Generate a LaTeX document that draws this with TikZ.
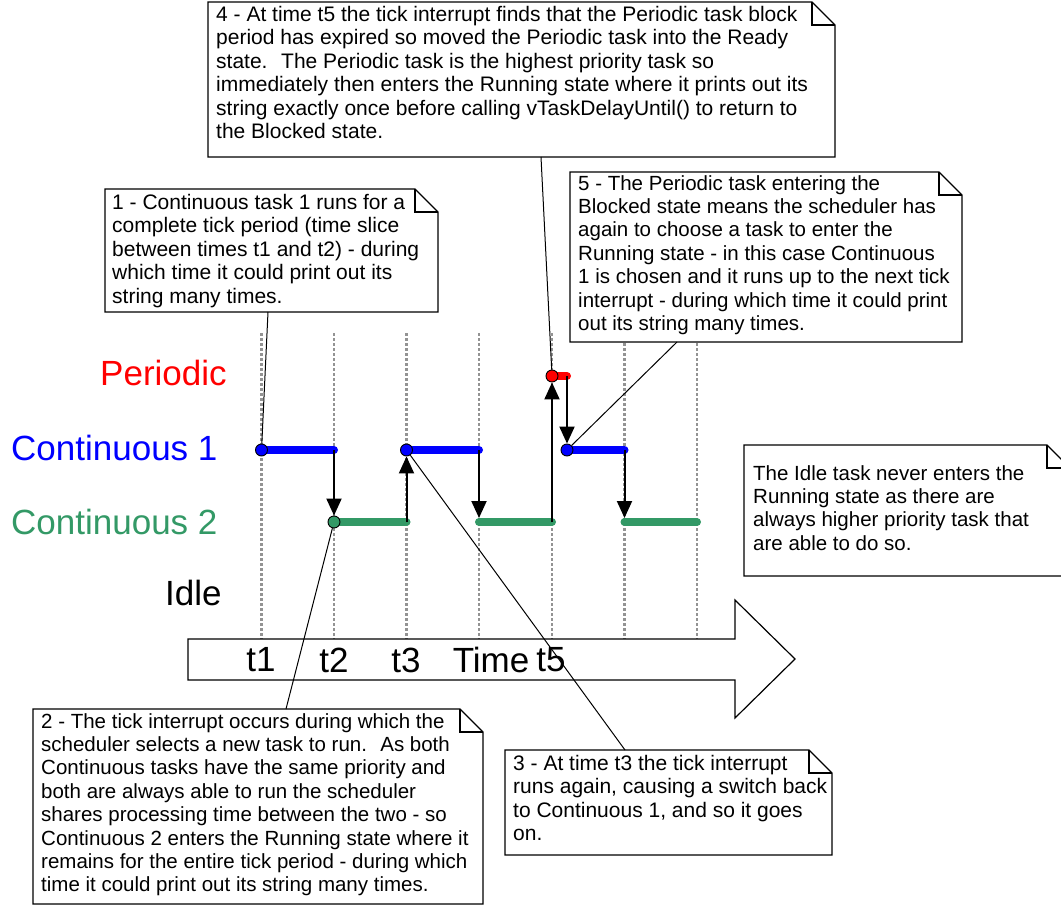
\documentclass[tikz,border=0pt]{standalone}
\usepackage{fontspec}
\setmainfont{Liberation Sans}
\usetikzlibrary{arrows.meta}
\definecolor{contgreen}{RGB}{51,153,102}
% folded note frame: corner, width, height
\newcommand\notefold[3]{\draw[fill=white, line width=1.2pt] (#1) -- ++(#2-23,0) -- ++(23,23) -- ++(0,#3-23) -- ++(-#2,0) -- cycle;
	\draw[line width=1.2pt] (#1) ++(#2-23,0) -- ++(0,23) -- ++(23,0);}
\tikzset{
	lane/.style={font=\fontsize{35}{38}\selectfont, anchor=west, inner sep=0pt},
	ticktime/.style={font=\fontsize{35}{38}\selectfont, inner sep=0pt},
	tickline/.style={gray!85, line width=2.5pt, dash pattern=on 3pt off 2pt},
	run/.style={line width=8pt, line cap=round},
	switch/.style={line width=2pt, -{Triangle[width=15pt,length=17pt]}},
	dot/.style={circle, draw=black, line width=0.9pt, inner sep=0pt, minimum size=12pt},
	note/.style={anchor=north west, align=left, inner sep=0pt, font=\fontsize{#1}{23.4}\selectfont},
	note/.default=20.5,
	leader/.style={line width=1pt},
}
\begin{document}
\begin{tikzpicture}[x=1pt, y=-1pt]
		%%%%% START %%%%%
		\useasboundingbox (0,0) rectangle (1061,905);
		
		\coordinate (per) at (0,376);
		\coordinate (con1) at (0,450);
		\coordinate (con2) at (0,522);
		\coordinate (t5b) at (567,0);
		\foreach \n/\x in {1/261.5, 2/334, 3/406.5, 4/479, 5/552, 6/624.5, 7/697} {
			\coordinate (t\n) at (\x,0);
			\draw[tickline] (\x,333) -- (\x,639);
		}
		
		\draw[fill=white, line width=1.2pt] (188,639) -- (735,639) -- (735,600) -- (795,659) -- (735,718) -- (735,680) -- (188,680) -- cycle;
		\node[ticktime] (lt1) at (261,660) {t1};
		\node[ticktime] (lt2) at (334,660) {t2};
		\node[ticktime] (lt3) at (406,660) {t3};
		\node[ticktime] (ltime) at (491,660) {Time};
		\node[ticktime] (lt5) at (551,660) {t5};
		
		\node[lane, red] (lper) at (100,373) {Periodic};
		\node[lane, blue] (lcon1) at (11,448) {Continuous 1};
		\node[lane, contgreen] (lcon2) at (11,522) {Continuous 2};
		\node[lane] (lidle) at (165,593) {Idle};
		
		\draw[run, blue] (t1 |- con1) -- (t2 |- con1);
		\draw[run, contgreen] (t2 |- con2) -- (t3 |- con2);
		\draw[run, blue] (t3 |- con1) -- (t4 |- con1);
		\draw[run, contgreen] (t4 |- con2) -- (t5 |- con2);
		\draw[run, red] (t5 |- per) -- (t5b |- per);
		\draw[run, blue] (t5b |- con1) -- (t6 |- con1);
		\draw[run, contgreen] (t6 |- con2) -- (t7 |- con2);
		
		\node[dot, fill=blue] (d1) at (t1 |- con1) {};
		\node[dot, fill=contgreen] (d2) at (t2 |- con2) {};
		\node[dot, fill=blue] (d3) at (t3 |- con1) {};
		\node[dot, fill=red] (d5) at (t5 |- per) {};
		\node[dot, fill=blue] (d6) at (t5b |- con1) {};
		
		\draw[switch] (t2 |- con1) -- (d2);
		\draw[switch] (t3 |- con2) -- (d3);
		\draw[switch, shorten >=4pt] (t4 |- con1) -- (t4 |- con2);
		\draw[switch] (t5 |- con2) -- (d5);
		\draw[switch] (t5b |- per) -- (d6);
		\draw[switch, shorten >=4pt] (t6 |- con1) -- (t6 |- con2);
		
		% notes
		\notefold{105,189}{333}{123}
		\node[note=21] (n1) at (112,194) {1 - Continuous task 1 runs for a\\complete tick period (time slice\\between times t1 and t2) - during\\which time it could print out its\\string many times.};
		\notefold{33,709}{450}{195}
		\node[note] (n2) at (41,713) {2 - The tick interrupt occurs during which the\\scheduler selects a new task to run.~ As both\\Continuous tasks have the same priority and\\both are always able to run the scheduler\\shares processing time between the two - so\\Continuous 2 enters the Running state where it\\remains for the entire tick period - during which\\time it could print out its string many times.};
		\notefold{505,750}{327}{105}
		\node[note=21] (n3) at (513,755) {3 - At time t3 the tick interrupt\\runs again, causing a switch back\\to Continuous 1, and so it goes\\on.};
		\notefold{208,2}{627}{155}
		\node[note=21] (n4) at (216,6) {4 - At time t5 the tick interrupt finds that the Periodic task block\\period has expired so moved the Periodic task into the Ready\\state.~ The Periodic task is the highest priority task so\\immediately then enters the Running state where it prints out its\\string exactly once before calling vTaskDelayUntil() to return to\\the Blocked state.};
		\notefold{570,172}{392}{170}
		\node[note] (n5) at (578,175) {5 - The Periodic task entering the\\Blocked state means the scheduler has\\again to choose a task to enter the\\Running state - in this case Continuous\\1 is chosen and it runs up to the next tick\\interrupt - during which time it could print\\out its string many times.};
		\notefold{744,445}{326}{131}
		\node[note] (nidle) at (753,465) {The Idle task never enters the\\Running state as there are\\always higher priority task that\\are able to do so.};
		
		\coordinate (n1-tail) at (268,312);
		\coordinate (n2-tail) at (286,709);
		\coordinate (n3-tail) at (625,750);
		\coordinate (n4-tail) at (541,157);
		\coordinate (n5-tail) at (677,342);
		\draw[leader] (n1-tail) -- (d1);
		\draw[leader] (d2) -- (n2-tail);
		\draw[leader] (d3) -- (n3-tail);
		\draw[leader] (n4-tail) -- (d5);
		\draw[leader] (n5-tail) -- (d6);
		%%%%% END %%%%%
	\end{tikzpicture}
\end{document}
